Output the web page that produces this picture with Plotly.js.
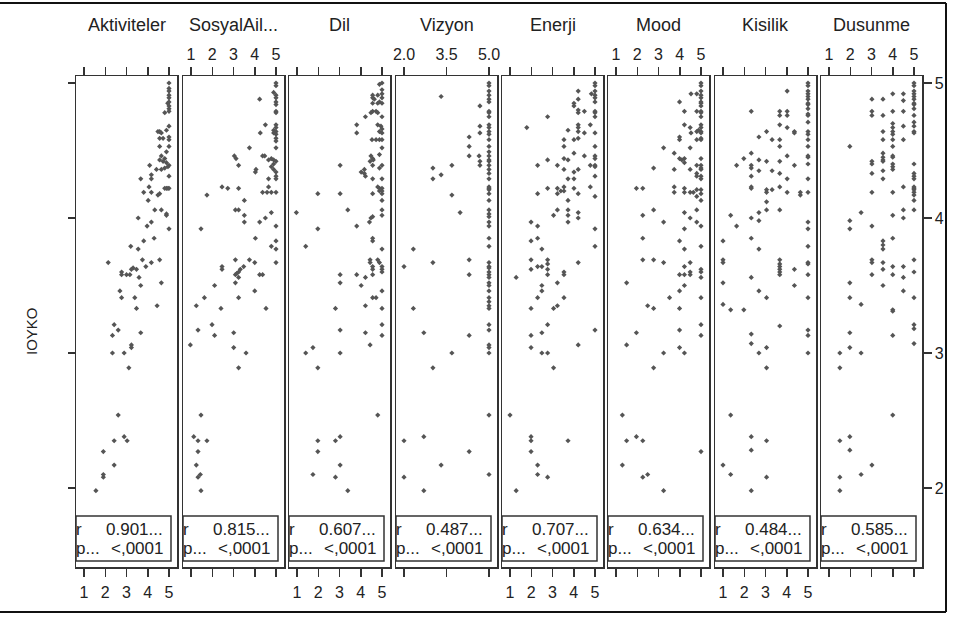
<!DOCTYPE html>
<html><head><meta charset="utf-8">
<script src="https://cdn.plot.ly/plotly-3.0.1.min.js"></script>
<style>html,body{margin:0;padding:0;background:#fff;}#chart{width:958px;height:617px;}</style>
</head><body><div id="chart"></div>
<script>
// ---------- data ----------
const yLabel = "IOYKO";
const panelNames = ["Aktiviteler","SosyalAil...","Dil","Vizyon","Enerji","Mood","Kisilik","Dusunme"];
const rValues = ["0.901...","0.815...","0.607...","0.487...","0.707...","0.634...","0.484...","0.585..."];
const pValues = ["<,0001","<,0001","<,0001","<,0001","<,0001","<,0001","<,0001","<,0001"];
const stdTicks = [1,2,3,4,5];
const stdTickText = ["1","2","3","4","5"];
const vizyonTicks = [2.0,3.5,5.0];
const vizyonTickText = ["2.0","3.5","5.0"];
const yTicks = [2,3,4,5];

const aktiviteler = [[5,5.0],[5,4.96],[5,4.94],[5,4.91],[5,4.89],[5,4.86],[5,4.83],[5,4.81],[4.94,4.85],[4.80,4.78],[5,4.79],
[4.48,4.64],[4.56,4.64],[4.64,4.63],[4.88,4.65],[5,4.68],[5,4.60],[4.72,4.59],[4.56,4.59],[5,4.58],[4.56,4.53],[5,4.53],[4.88,4.49],[4.64,4.46],[4.80,4.44],[4.56,4.43],[4.72,4.42],[4.88,4.41],[5,4.39],[4.95,4.38],[4.80,4.37],[4.09,4.39],[4.17,4.32],[4.41,4.36],[4.64,4.36],[3.67,4.29],[4.17,4.29],[5,4.31],[4.88,4.22],[4.95,4.22],[5,4.22],[4.80,4.22],[4.06,4.23],[4.56,4.18],[4.17,4.19],[3.81,4.19],[4.48,4.17],[4.02,4.13],[4.33,4.06],[4.64,4.06],[4.88,4.03],[4.88,4.02],[4.17,3.97],[3.55,4.0],[5,3.92],[3.97,3.94],[4.30,3.85],[3.81,3.83],[3.20,3.79],[3.55,3.77],[2.14,3.67],[3.75,3.69],[4.17,3.67],[4.56,3.69],[3.91,3.64],[3.31,3.63],[3.23,3.62],[3.47,3.62],[2.77,3.60],[2.77,3.58],[3.0,3.58],[3.16,3.58],[3.59,3.56],[3.67,3.50],[4.64,3.52],[2.69,3.46],[2.77,3.41],[3.39,3.41],[4.44,3.35],[3.47,3.33],[2.42,3.21],[2.61,3.17],[2.34,3.13],[3.67,3.15],[3.23,3.06],[3.23,3.04],[2.34,3.0],[2.89,3.0],[3.11,2.89],[2.61,2.54],[2.89,2.38],[3.03,2.35],[2.42,2.35],[1.91,2.27],[2.42,2.17],[1.91,2.10],[1.91,2.08],[1.56,1.98]];

const sosyalAil = [[5,5.0],[5,4.98],[5,4.91],[5,4.89],[5,4.86],[5,4.84],[5,4.79],[5,4.78],[5,4.69],[5,4.67],[5,4.64],[5,4.62],[5,4.59],[5,4.57],[5,4.52],[5,4.42],[5,4.34],[5,4.31],[5,4.29],[5,4.19],[5,3.94],[5,3.83],[5,3.77],[5,3.67],
[4.89,4.93],[4.89,4.65],[4.23,4.88],[4.50,4.69],[4.26,4.63],[4.89,4.63],[3.75,4.52],[3.04,4.46],[3.12,4.44],[3.24,4.39],[4.37,4.46],[4.47,4.46],[4.65,4.43],[4.78,4.44],[4.89,4.43],[4.89,4.40],[4.78,4.38],[4.89,4.36],[4.06,4.36],[4.03,4.34],[4.65,4.29],[2.46,4.23],[2.73,4.22],[3.24,4.22],[4.65,4.23],[4.37,4.19],[4.58,4.19],[4.78,4.19],[1.75,4.17],[3.51,4.13],[3.09,4.06],[3.24,4.06],[3.51,4.02],[3.51,3.97],[4.23,3.97],[4.50,4.0],[4.78,4.04],[1.47,3.92],[4.03,3.85],[4.78,3.79],[3.09,3.69],[3.75,3.69],[4.0,3.67],[2.46,3.64],[2.46,3.62],[3.48,3.64],[3.32,3.62],[3.24,3.60],[3.16,3.59],[3.09,3.58],[4.23,3.58],[4.37,3.58],[3.24,3.56],[2.11,3.50],[3.09,3.52],[4.0,3.46],[1.63,3.41],[3.24,3.41],[1.25,3.35],[2.41,3.33],[4.53,3.33],[1.33,3.17],[1.99,3.21],[2.11,3.13],[3.01,3.15],[0.97,3.06],[3.01,3.04],[3.59,3.0],[3.24,2.89],[1.47,2.54],[1.13,2.38],[1.33,2.35],[1.75,2.35],[1.33,2.27],[1.25,2.17],[1.44,2.10],[1.33,2.08],[1.47,1.98]];

const dil = [[5,5.0],[4.88,4.99],[5,4.95],[5,4.92],[4.56,4.91],[4.80,4.91],[4.56,4.89],[5,4.89],[4.64,4.88],[4.88,4.86],[4.56,4.85],[4.80,4.85],[5,4.85],[4.56,4.79],[4.72,4.79],[4.80,4.78],[4.48,4.78],[4.22,4.75],[5,4.75],[4.80,4.69],[4.95,4.68],[5,4.66],[3.81,4.69],[3.81,4.63],[4.88,4.64],[5,4.63],[4.53,4.58],[4.72,4.58],[4.88,4.58],[5,4.58],[5,4.52],[4.88,4.47],[4.48,4.46],[4.56,4.44],[4.59,4.43],[4.44,4.42],[4.56,4.39],[4.88,4.37],[5,4.39],[3.03,4.39],[4.17,4.36],[4.02,4.34],[4.17,4.33],[4.22,4.31],[4.56,4.29],[5,4.29],[4.80,4.23],[4.88,4.22],[5,4.22],[5,4.20],[4.88,4.20],[5,4.18],[4.56,4.18],[1.98,4.18],[3.03,4.18],[5,4.13],[0.97,4.04],[3.39,4.06],[5,4.06],[5,4.02],[4.56,4.01],[4.48,4.0],[4.41,3.97],[3.81,3.94],[1.98,3.92],[4.56,3.85],[4.56,3.83],[1.41,3.79],[5,3.77],[4.44,3.69],[4.80,3.69],[4.44,3.67],[4.88,3.67],[4.56,3.64],[5,3.64],[5,3.62],[4.56,3.62],[5,3.60],[3.03,3.58],[3.81,3.58],[4.56,3.58],[4.22,3.56],[3.03,3.52],[4.02,3.50],[5,3.46],[4.56,3.41],[4.72,3.41],[4.22,3.35],[2.81,3.33],[5,3.33],[5,3.21],[3.03,3.17],[4.22,3.15],[5,3.13],[4.44,3.06],[1.75,3.04],[1.41,3.0],[3.03,3.0],[1.98,2.89],[4.80,2.54],[1.98,2.35],[2.81,2.35],[3.03,2.38],[1.98,2.27],[3.03,2.17],[1.75,2.10],[2.81,2.08],[3.39,1.98]];

const vizyon = [[5,5.0],[5,4.98],[5,4.94],[5,4.91],[5,4.88],[5,4.86],[5,4.79],[5,4.78],[5,4.75],[5,4.69],[5,4.67],[5,4.64],[5,4.62],[5,4.58],[5,4.53],[5,4.49],[5,4.46],[5,4.43],[5,4.42],[5,4.39],[5,4.36],[5,4.33],[5,4.29],[5,4.23],[5,4.22],[5,4.21],[5,4.18],[5,4.13],[5,4.06],[5,4.03],[5,4.01],[5,3.97],[5,3.94],[5,3.85],[5,3.79],[5,3.67],[5,3.64],[5,3.63],[5,3.60],[5,3.58],[5,3.56],[5,3.52],[5,3.50],[5,3.46],[5,3.41],[5,3.38],[5,3.35],[5,3.33],[5,3.21],[5,3.17],[5,3.06],[5,3.04],[5,3.0],[5,2.54],[5,2.10],
[3.31,4.90],[4.68,4.83],[4.68,4.68],[4.68,4.63],[4.30,4.60],[4.30,4.53],[4.30,4.46],[4.65,4.46],[4.68,4.42],[4.68,4.39],[3.69,4.39],[3.02,4.37],[3.02,4.29],[3.31,4.32],[3.69,4.17],[3.98,4.04],[2.33,3.77],[2.0,3.64],[3.02,3.67],[4.30,3.69],[4.30,3.58],[2.33,3.33],[2.70,3.15],[4.30,3.13],[3.69,3.0],[3.02,2.89],[2.0,2.35],[2.70,2.38],[4.30,2.27],[3.31,2.17],[2.0,2.08],[2.70,1.98]];

const enerji = [[5,5.0],[5,4.98],[5,4.94],[5,4.91],[5,4.89],[5,4.86],[5,4.79],[5,4.78],[5,4.75],[5,4.63],[5,4.53],[5,4.46],[5,4.44],[5,4.39],[5,4.38],[5,4.31],[5,4.16],[5,3.92],[5,3.79],[5,3.17],
[4.83,4.92],[4.21,4.94],[4.21,4.88],[4.01,4.85],[4.01,4.83],[4.21,4.80],[4.21,4.78],[4.50,4.79],[2.77,4.75],[4.21,4.69],[4.21,4.67],[4.21,4.64],[4.78,4.69],[4.50,4.63],[3.73,4.65],[1.79,4.67],[3.54,4.58],[4.01,4.58],[4.21,4.59],[3.54,4.53],[4.01,4.48],[4.50,4.46],[3.54,4.44],[3.73,4.43],[2.30,4.39],[2.77,4.43],[3.23,4.39],[3.54,4.36],[4.01,4.34],[4.21,4.36],[4.78,4.39],[3.73,4.29],[4.01,4.29],[2.77,4.22],[2.30,4.18],[3.23,4.22],[3.23,4.18],[3.39,4.20],[3.54,4.23],[3.54,4.20],[3.73,4.13],[4.01,4.22],[4.21,4.18],[4.78,4.23],[3.05,4.02],[3.23,4.06],[3.73,4.06],[3.73,4.02],[4.21,4.04],[4.21,4.0],[3.73,3.97],[1.99,3.97],[2.30,3.94],[1.99,3.83],[2.30,3.85],[2.50,3.77],[1.99,3.69],[1.99,3.62],[2.30,3.64],[2.50,3.64],[2.77,3.69],[2.77,3.66],[2.77,3.62],[2.77,3.58],[3.54,3.60],[3.54,3.58],[4.21,3.67],[1.29,3.56],[3.23,3.52],[2.50,3.50],[2.50,3.46],[2.30,3.41],[3.54,3.41],[1.99,3.33],[3.05,3.33],[3.23,3.35],[2.77,3.21],[2.50,3.15],[1.99,3.13],[1.99,3.04],[4.21,3.06],[2.50,3.0],[2.77,3.0],[3.05,2.89],[1.0,2.54],[1.99,2.38],[1.99,2.35],[3.73,2.35],[1.99,2.27],[2.30,2.17],[2.30,2.10],[2.77,2.08],[1.29,1.98]];

const mood = [[5,5.0],[5,4.98],[5,4.94],[5,4.91],[5,4.89],[5,4.86],[5,4.85],[5,4.83],[5,4.79],[5,4.78],[5,4.75],[5,4.69],[5,4.67],[5,4.64],[5,4.63],[5,4.59],[5,4.58],[5,4.44],[5,4.39],[5,4.37],[5,4.36],[5,4.31],[5,4.29],[5,4.21],[5,4.18],[5,4.13],[5,3.94],[5,3.79],[5,3.62],[5,3.60],[5,3.56],[5,3.41],[5,3.21],[5,3.13],[5,2.27],
[4.53,4.92],[4.80,4.92],[3.99,4.86],[4.22,4.79],[4.80,4.79],[4.22,4.69],[4.49,4.67],[4.53,4.63],[4.80,4.64],[4.88,4.65],[3.99,4.60],[3.99,4.58],[4.80,4.58],[4.49,4.52],[3.24,4.52],[3.74,4.48],[3.99,4.44],[4.10,4.43],[4.22,4.44],[4.22,4.41],[3.74,4.36],[4.49,4.36],[4.80,4.39],[4.80,4.33],[2.77,4.37],[4.80,4.31],[1.96,4.22],[2.26,4.22],[3.74,4.23],[3.74,4.19],[4.22,4.22],[4.22,4.19],[4.49,4.19],[4.64,4.19],[4.80,4.21],[4.80,4.16],[2.77,4.06],[2.26,4.02],[4.22,4.04],[4.49,4.0],[4.80,4.06],[4.80,3.97],[3.24,3.97],[4.22,3.92],[2.26,3.85],[3.99,3.83],[4.22,3.77],[2.26,3.69],[2.77,3.69],[3.24,3.67],[4.22,3.64],[4.49,3.67],[3.99,3.58],[4.22,3.58],[4.49,3.60],[4.49,3.58],[4.22,3.50],[3.99,3.46],[1.50,3.52],[3.52,3.41],[2.49,3.35],[2.77,3.33],[3.99,3.33],[3.99,3.17],[1.96,3.15],[1.50,3.06],[3.99,3.04],[4.22,3.0],[3.24,3.0],[2.77,2.89],[1.30,2.54],[1.50,2.35],[1.96,2.38],[2.26,2.35],[1.30,2.17],[2.26,2.08],[2.49,2.10],[3.24,1.98]];

const kisilik = [[5,5.0],[5,4.98],[5,4.94],[5,4.92],[5,4.90],[5,4.88],[5,4.85],[5,4.84],[5,4.81],[5,4.77],[5,4.76],[5,4.71],[5,4.64],[5,4.62],[5,4.58],[5,4.53],[5,4.46],[5,4.45],[5,4.40],[5,4.29],[5,4.19],[5,3.97],[5,3.92],[5,3.79],[5,3.67],[5,3.66],[5,3.58],[5,3.41],[5,3.17],[5,3.13],[5,3.0],
[4.02,4.94],[2.33,4.79],[3.67,4.79],[4.02,4.79],[3.67,4.76],[4.02,4.76],[3.67,4.69],[4.02,4.67],[4.36,4.64],[4.36,4.63],[3.05,4.64],[2.69,4.60],[3.31,4.58],[3.67,4.58],[3.67,4.53],[2.33,4.48],[1.98,4.44],[2.69,4.43],[1.64,4.39],[2.33,4.39],[2.33,4.37],[3.05,4.42],[3.67,4.42],[4.02,4.46],[4.36,4.39],[3.31,4.35],[2.69,4.35],[2.33,4.31],[3.67,4.33],[4.02,4.29],[3.67,4.23],[2.33,4.23],[2.33,4.22],[3.05,4.21],[3.05,4.19],[3.31,4.21],[4.02,4.19],[4.64,4.17],[4.64,4.19],[3.05,4.12],[3.05,4.06],[2.69,4.04],[3.67,4.06],[1.36,4.02],[2.33,4.0],[2.69,3.98],[1.64,3.94],[1.0,3.83],[2.33,3.85],[2.69,3.77],[1.0,3.69],[1.0,3.67],[3.67,3.69],[3.67,3.66],[3.67,3.64],[3.67,3.62],[3.67,3.60],[3.67,3.58],[4.36,3.62],[2.33,3.56],[1.0,3.52],[4.36,3.50],[2.69,3.46],[3.05,3.41],[1.0,3.36],[1.36,3.32],[1.98,3.32],[3.67,3.20],[2.33,3.14],[2.33,3.07],[2.69,3.0],[3.05,3.04],[3.05,2.89],[1.36,2.54],[2.33,2.38],[3.05,2.35],[2.33,2.28],[1.0,2.17],[1.36,2.10],[3.05,2.08],[2.33,1.98]];

const dusunme = [[5,5.0],[5,4.98],[5,4.94],[5,4.92],[5,4.90],[5,4.88],[5,4.85],[5,4.84],[5,4.81],[5,4.76],[5,4.71],[5,4.68],[5,4.64],[5,4.63],[5,4.40],[5,4.33],[5,4.31],[5,4.29],[5,4.23],[5,4.22],[5,4.21],[5,4.19],[5,4.17],[5,4.13],[5,4.06],[5,3.69],[5,3.60],[5,3.41],[5,3.21],[5,3.18],[5,3.07],
[3.02,4.88],[3.54,4.88],[4.0,4.92],[4.50,4.92],[4.50,4.87],[3.02,4.79],[3.02,4.76],[3.54,4.76],[4.0,4.79],[4.50,4.79],[4.0,4.70],[4.50,4.68],[4.0,4.67],[4.0,4.64],[3.54,4.64],[3.54,4.58],[4.0,4.62],[4.0,4.58],[4.50,4.58],[1.98,4.53],[4.0,4.53],[3.54,4.48],[3.54,4.45],[3.54,4.43],[3.54,4.42],[4.0,4.46],[4.0,4.45],[4.0,4.40],[4.0,4.38],[4.0,4.36],[3.02,4.42],[3.02,4.40],[3.02,4.33],[3.54,4.35],[3.54,4.29],[4.50,4.23],[3.02,4.19],[4.0,4.19],[4.50,4.06],[4.50,4.0],[4.0,4.02],[2.51,4.04],[1.98,3.98],[1.98,3.92],[3.02,3.94],[4.0,3.85],[3.54,3.83],[3.54,3.80],[3.54,3.77],[3.02,3.69],[3.02,3.67],[3.54,3.67],[3.54,3.62],[3.02,3.58],[4.0,3.64],[4.0,3.58],[4.50,3.64],[4.50,3.56],[3.54,3.50],[1.98,3.52],[1.98,3.41],[2.51,3.36],[4.0,3.32],[4.0,3.31],[4.50,3.46],[1.98,3.15],[4.0,3.13],[1.98,3.04],[2.51,3.0],[1.51,3.0],[1.51,2.89],[4.0,2.54],[1.51,2.35],[1.98,2.38],[1.98,2.28],[3.02,2.17],[2.51,2.10],[1.51,2.08],[1.51,1.98]];

const panelData = [aktiviteler, sosyalAil, dil, vizyon, enerji, mood, kisilik, dusunme];

// ---------- layout (pixels) ----------
const W = 958, H = 617;
const FONT = "Liberation Sans, Arial, sans-serif";
const INK = "#333";
const px = v => v / W;
const py = v => 1 - v / H;
const panelLeft = [76, 183, 289, 396, 502, 608, 715, 821];
const panelW = 101;
const panelTop = 76, panelBottom = 567;
const yRange = [1.415, 5.052];

const traces = [];
const layout = {
  width: W, height: H,
  margin: {l: 0, r: 0, t: 0, b: 0},
  paper_bgcolor: "#fff", plot_bgcolor: "#fff",
  showlegend: false,
  font: {family: FONT, color: "#222"},
  shapes: [], annotations: []
};

panelData.forEach((pts, i) => {
  const n = i + 1;
  const xa = "xaxis" + (n === 1 ? "" : n);
  const ya = "yaxis" + (n === 1 ? "" : n);
  const xr = "x" + (n === 1 ? "" : n);
  const yr = "y" + (n === 1 ? "" : n);
  const isViz = (i === 3);
  const ticks = isViz ? vizyonTicks : stdTicks;
  const tickText = isViz ? vizyonTickText : stdTickText;
  const lo = ticks[0], hi = ticks[ticks.length - 1];
  const per = (panelW - 16) / (hi - lo);
  const pad = 8 / per;

  traces.push({
    type: "scatter", mode: "markers",
    x: pts.map(p => p[0]), y: pts.map(p => p[1]),
    xaxis: xr, yaxis: yr,
    marker: {symbol: "diamond", size: 4, color: "#555"},
    hoverinfo: "x+y"
  });

  const L = panelLeft[i];
  const labelsTop = (i % 2 === 1);
  layout[xa] = {
    domain: [px(L), px(L + panelW)],
    range: [lo - pad, hi + pad],
    anchor: yr,
    side: labelsTop ? "top" : "bottom",
    tickmode: "array", tickvals: ticks, ticktext: tickText,
    ticks: "outside", ticklen: 8, tickwidth: 1.5, tickcolor: INK,
    showline: true, linecolor: INK, linewidth: 1.5, mirror: "allticks",
    showgrid: false, zeroline: false,
    tickfont: {family: FONT, size: 16, color: "#222"},
    ticklabelstandoff: labelsTop ? 0 : 2,
    fixedrange: true
  };
  const yax = {
    domain: [py(panelBottom), py(panelTop)],
    range: yRange,
    anchor: xr,
    tickmode: "array", tickvals: yTicks,
    showline: true, linecolor: INK, linewidth: 1.5, mirror: true,
    showgrid: false, zeroline: false,
    showticklabels: false, ticks: "",
    tickfont: {family: FONT, size: 16, color: "#222"},
    fixedrange: true
  };
  if (i === 0) { yax.ticks = "outside"; yax.ticklen = 7; yax.tickwidth = 1.5; yax.tickcolor = INK; }
  if (i === 7) { yax.side = "right"; yax.ticks = "outside"; yax.ticklen = 8; yax.tickwidth = 1.5; yax.tickcolor = INK; yax.showticklabels = true; }
  layout[ya] = yax;

  // panel title
  layout.annotations.push({
    xref: "paper", yref: "paper", x: px(L + panelW / 2), y: py(25),
    text: panelNames[i], showarrow: false, xanchor: "center", yanchor: "middle",
    font: {family: FONT, size: 18, color: "#222"}
  });
  // r / p inset box
  layout.shapes.push({
    type: "rect", xref: "paper", yref: "paper", layer: "above",
    x0: px(L), x1: px(L + 95), y0: py(561), y1: py(516),
    fillcolor: "#fff", line: {color: INK, width: 1.5}
  });
  const txt = (t, x, y, anchor) => layout.annotations.push({
    xref: "paper", yref: "paper", x: px(x), y: py(y), text: t, showarrow: false,
    xanchor: anchor, yanchor: "middle",
    font: {family: FONT, size: 17, color: "#222"}
  });
  txt("r", L - 2, 529, "left");
  txt(rValues[i], L + 89, 529, "right");
  txt("p...", L - 2, 548, "left");
  txt(pValues[i], L + 89, 548, "right");
});

// y axis title
layout.annotations.push({
  xref: "paper", yref: "paper", x: px(31), y: py(331), text: yLabel,
  textangle: -90, showarrow: false, xanchor: "center", yanchor: "middle",
  font: {family: FONT, size: 15, color: "#222"}
});
// outer frame (top, right, bottom)
layout.shapes.push({type: "line", xref: "paper", yref: "paper", x0: 0, x1: px(946), y0: py(3), y1: py(3), line: {color: "#111", width: 2}});
layout.shapes.push({type: "line", xref: "paper", yref: "paper", x0: px(946), x1: px(946), y0: py(3), y1: py(612), line: {color: "#111", width: 2}});
layout.shapes.push({type: "line", xref: "paper", yref: "paper", x0: 0, x1: px(946), y0: py(612), y1: py(612), line: {color: "#111", width: 2}});

Plotly.newPlot("chart", traces, layout, {displayModeBar: false, staticPlot: true});
</script>
</body></html>
